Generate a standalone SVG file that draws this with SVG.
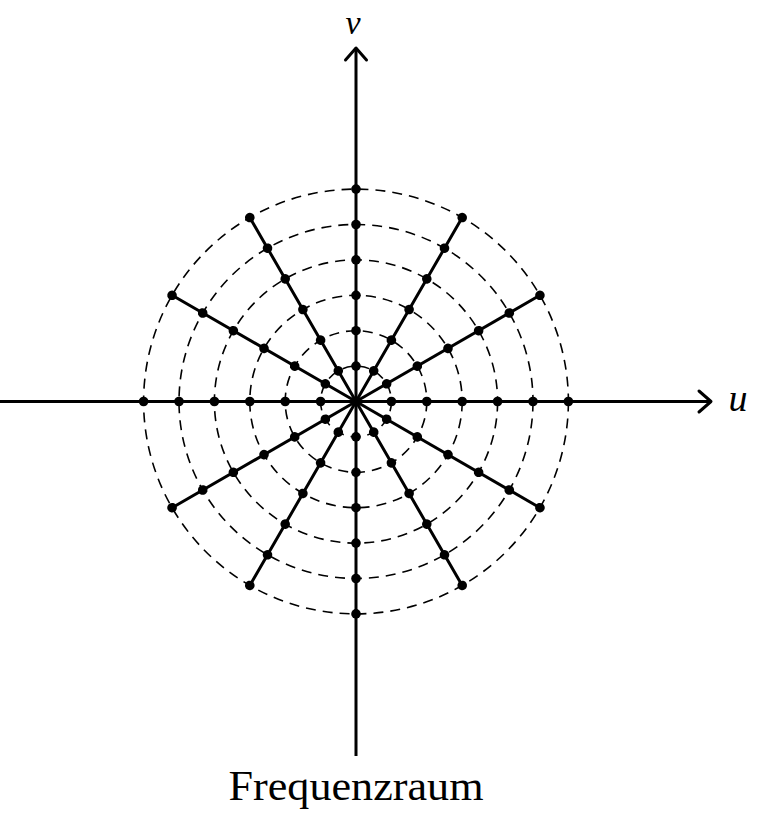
<svg xmlns="http://www.w3.org/2000/svg" width="763" height="822" viewBox="0 0 763 822">
<style>
.c{fill:none;stroke:#000;stroke-width:1.6;stroke-dasharray:10 7}
.a{fill:none;stroke:#000;stroke-width:3}
.r{stroke:#000;stroke-width:3;stroke-linecap:round}
.d{fill:#000}
.t{font-family:"Liberation Serif","DejaVu Serif",serif;fill:#000}
</style>
<defs>
<circle id="dot" r="4.8" class="d"/>
</defs>
<g id="circles" transform="translate(356,401.5)">
<circle class="c" r="35.4"/>
<circle class="c" r="70.8"/>
<circle class="c" r="106.2"/>
<circle class="c" r="141.6"/>
<circle class="c" r="177"/>
<circle class="c" r="212.4"/>
</g>
<g id="axes">
<line class="a" x1="0" y1="401.5" x2="710" y2="401.5"/>
<polyline class="a" points="699,391 711,401.5 699,412" stroke-linecap="round" stroke-linejoin="round"/>
<line class="a" x1="356" y1="756" x2="356" y2="49"/>
<polyline class="a" points="345.5,60 356,48 366.5,60" stroke-linecap="round" stroke-linejoin="round"/>
</g>
<g id="connectors">
<g id="rays" transform="translate(356,401.5)">
<line class="r" x1="0" y1="0" x2="183.9" y2="-106.2"/>
<line class="r" x1="0" y1="0" x2="106.2" y2="-183.9"/>
<line class="r" x1="0" y1="0" x2="-106.2" y2="-183.9"/>
<line class="r" x1="0" y1="0" x2="-183.9" y2="-106.2"/>
<line class="r" x1="0" y1="0" x2="-183.9" y2="106.2"/>
<line class="r" x1="0" y1="0" x2="-106.2" y2="183.9"/>
<line class="r" x1="0" y1="0" x2="106.2" y2="183.9"/>
<line class="r" x1="0" y1="0" x2="183.9" y2="106.2"/>
</g>
</g>
<g id="dots" transform="translate(356,401.5)">
<g id="ray0"><use href="#dot" x="35.4" y="0"/><use href="#dot" x="70.8" y="0"/><use href="#dot" x="106.2" y="0"/><use href="#dot" x="141.6" y="0"/><use href="#dot" x="177" y="0"/><use href="#dot" x="212.4" y="0"/></g>
<use href="#ray0" transform="rotate(30)"/>
<use href="#ray0" transform="rotate(60)"/>
<use href="#ray0" transform="rotate(90)"/>
<use href="#ray0" transform="rotate(120)"/>
<use href="#ray0" transform="rotate(150)"/>
<use href="#ray0" transform="rotate(180)"/>
<use href="#ray0" transform="rotate(210)"/>
<use href="#ray0" transform="rotate(240)"/>
<use href="#ray0" transform="rotate(270)"/>
<use href="#ray0" transform="rotate(300)"/>
<use href="#ray0" transform="rotate(330)"/>
</g>
<g id="labels">
<text class="t" x="353" y="34" font-size="34" font-style="italic" text-anchor="middle">v</text>
<text class="t" x="738" y="411" font-size="38" font-style="italic" text-anchor="middle">u</text>
<text class="t" x="356" y="800" font-size="42" text-anchor="middle" textLength="255" lengthAdjust="spacingAndGlyphs">Frequenzraum</text>
</g>
</svg>
